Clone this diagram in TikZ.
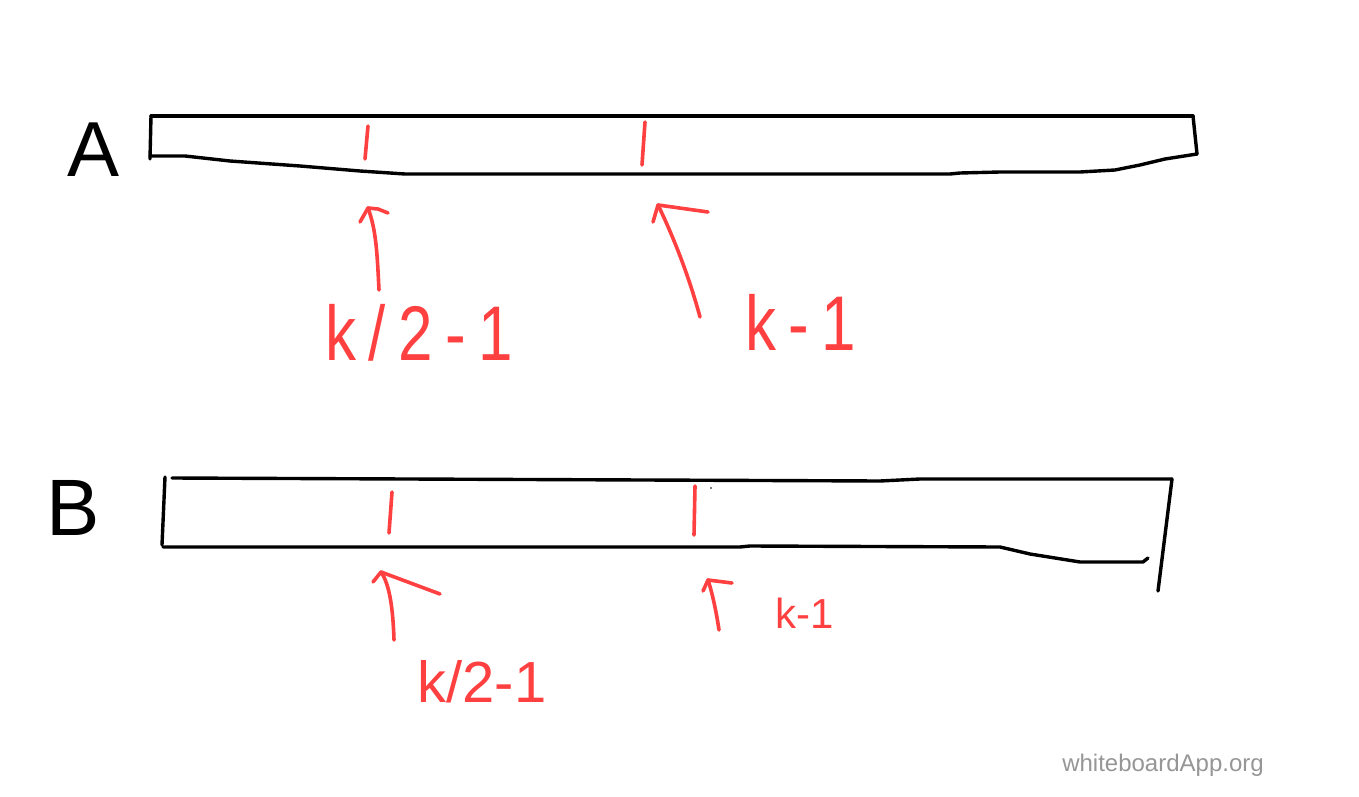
\documentclass[tikz,border=0pt]{standalone}
\usepackage{fontspec}
\setmainfont{Liberation Sans}
\newfontfamily\spacedfont[LetterSpace=20]{Liberation Sans}
\definecolor{pen}{RGB}{255,64,64}
\definecolor{ink}{RGB}{0,0,0}
\definecolor{mark}{RGB}{150,150,150}
\tikzset{
  blackpen/.style={draw=ink,line width=3.4pt,line cap=round,line join=round},
  redpen/.style={draw=pen,line width=3.6pt,line cap=round,line join=round},
  redlabel/.style={text=pen,inner sep=0pt,anchor=center},
  blacklabel/.style={text=ink,inner sep=0pt,anchor=center},
}
\begin{document}
\begin{tikzpicture}[x=1pt,y=-1pt]
\useasboundingbox[fill=white] (0,0) rectangle (1359,797);

% ---- Array A ----
\node[blacklabel,font=\fontsize{78}{78}\selectfont] (labA) at (94,150) {A};
\draw[blackpen] (151,116) -- (1193,116);
\draw[blackpen] (151,116) -- (150,159);
\draw[blackpen] (1193,116) -- (1197,154);
\draw[blackpen] (150,156) -- (185,156) -- (230,161) -- (300,166) -- (360,171) -- (405,174)
  -- (950,174) -- (960,173) -- (1000,172) -- (1080,172) -- (1115,170) -- (1140,165)
  -- (1165,159) -- (1197,154);
% ticks
\coordinate (ta1) at (368,126);
\coordinate (ta1b) at (365,159);
\coordinate (ta2) at (645,122);
\coordinate (ta2b) at (642,165);
\draw[redpen] (ta1) -- (ta1b);
\draw[redpen] (ta2) -- (ta2b);

% labels A
\node[redlabel,font=\spacedfont\fontsize{62}{62}\selectfont,yscale=1.25] (la1) at (419,333) {k/2-1};
\node[redlabel,font=\spacedfont\fontsize{62}{62}\selectfont,yscale=1.25] (la2) at (801,322) {k-1};

% arrows A
\coordinate (ha1) at (368,208);
\coordinate (sa1) at (379,290);
\draw[redpen] (sa1) .. controls (377,250) and (376,230) .. (ha1);
\draw[redpen] (360,222) -- (ha1) -- (378,209) -- (388,213);
\coordinate (ha2) at (658,205);
\coordinate (sa2) at (700,317);
\draw[redpen] (sa2) .. controls (690,280) and (675,240) .. (ha2);
\draw[redpen] (653,222) -- (ha2) -- (708,212);

% ---- Array B ----
\node[blacklabel,font=\fontsize{80}{80}\selectfont] (labB) at (73,508) {B};
\draw[blackpen] (172,478) -- (880,481) -- (920,479) -- (1172,479);
\draw[blackpen] (165,477) -- (162,545);
\draw[blackpen] (1172,479) -- (1158,591);
\draw[blackpen] (163,547) -- (740,547) -- (750,546) -- (1000,547) -- (1030,554)
  -- (1080,562) -- (1143,562) -- (1148,558);
% ticks
\coordinate (tb1) at (392,492);
\coordinate (tb1b) at (389,533);
\coordinate (tb2) at (695,486);
\coordinate (tb2b) at (694,535);
\draw[redpen] (tb1) -- (tb1b);
\draw[redpen] (tb2) -- (tb2b);
\fill[ink] (711,488) circle (0.8pt);

% labels B
\node[redlabel,font=\fontsize{58}{58}\selectfont] (lb1) at (482,682) {k/2-1};
\node[redlabel,font=\fontsize{42}{42}\selectfont] (lb2) at (805,613) {k-1};

% arrows B
\coordinate (hb1) at (381,572);
\coordinate (sb1) at (394,640);
\draw[redpen] (sb1) .. controls (393,610) and (390,585) .. (hb1);
\draw[redpen] (373,582) -- (hb1) -- (440,594);
\coordinate (hb2) at (708,580);
\coordinate (sb2) at (719,630);
\draw[redpen] (sb2) .. controls (716,610) and (712,592) .. (hb2);
\draw[redpen] (703,591) -- (hb2) -- (732,583);

% watermark
\node[text=mark,inner sep=0pt,anchor=center,font=\fontsize{24}{24}\selectfont] (wm) at (1163,765) {whiteboardApp.org};
\end{tikzpicture}
\end{document}
